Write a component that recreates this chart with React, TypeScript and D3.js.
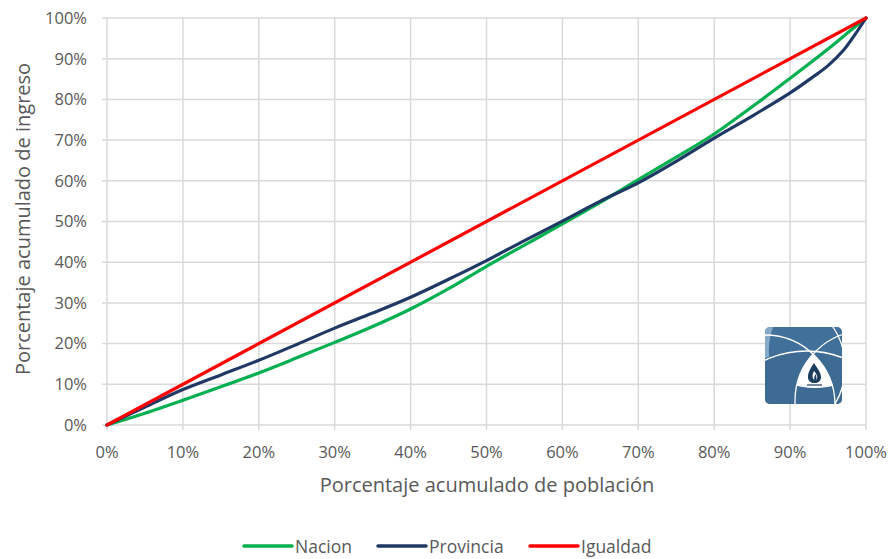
import React, { useEffect, useRef } from 'react';
import * as d3 from 'd3';

// cumulative population share (%)
const nacionX = [0, 5, 10, 15, 20, 25, 30, 35, 40, 45, 50, 55, 60, 65, 70, 75, 80, 85, 90, 95, 98, 100];
// cumulative income share (%)
const nacionY = [0, 2.9, 6.1, 9.4, 12.8, 16.5, 20.3, 24.2, 28.5, 33.5, 39.0, 44.2, 49.4, 54.7, 60.3, 65.8, 71.5, 78.2, 85.2, 92.4, 97.0, 100];

const provinciaX = [0, 5, 10, 15, 20, 25, 30, 35, 40, 45, 50, 55, 60, 65, 70, 75, 80, 85, 90, 93, 95, 97, 98.5, 100];
const provinciaY = [0, 4.4, 8.7, 12.3, 15.9, 19.8, 23.8, 27.5, 31.4, 35.8, 40.4, 45.3, 50.1, 55.0, 59.5, 64.8, 70.5, 75.9, 81.6, 85.5, 88.3, 92.0, 95.8, 100];

const igualdadX = [0, 100];
const igualdadY = [0, 100];

const tickValues = [0, 10, 20, 30, 40, 50, 60, 70, 80, 90, 100];

const seriesNames = ['Nacion', 'Provincia', 'Igualdad'];
const seriesColors = ['#00b050', '#203864', '#ff0000'];

const W = 891;
const H = 559;
const FONT = "'Open Sans', sans-serif";

const App: React.FC = () => {
  const svgRef = useRef<SVGSVGElement>(null);

  useEffect(() => {
    if (!svgRef.current) return;
    const svg = d3.select(svgRef.current);
    svg.selectAll('*').remove();

    const margin = { top: 18, right: 25, bottom: 134, left: 107 };
    const iw = W - margin.left - margin.right;
    const ih = H - margin.top - margin.bottom;

    const x = d3.scaleLinear().domain([0, 100]).range([0, iw]);
    const y = d3.scaleLinear().domain([0, 100]).range([ih, 0]);

    const g = svg.append('g').attr('transform', `translate(${margin.left},${margin.top})`);

    // gridlines
    g.append('g')
      .selectAll('line')
      .data(tickValues)
      .join('line')
      .attr('x1', (d) => x(d))
      .attr('x2', (d) => x(d))
      .attr('y1', 0)
      .attr('y2', ih + 5)
      .attr('stroke', '#d9d9d9')
      .attr('stroke-width', 1.5);

    g.append('g')
      .selectAll('line')
      .data(tickValues)
      .join('line')
      .attr('x1', -5)
      .attr('x2', iw)
      .attr('y1', (d) => y(d))
      .attr('y2', (d) => y(d))
      .attr('stroke', '#d9d9d9')
      .attr('stroke-width', 1.5);

    // tick labels
    g.append('g')
      .selectAll('text')
      .data(tickValues)
      .join('text')
      .attr('x', (d) => x(d))
      .attr('y', ih + 33)
      .attr('text-anchor', 'middle')
      .attr('font-family', FONT)
      .attr('font-size', 16.5)
      .attr('fill', '#595959')
      .text((d) => `${d}%`);

    g.append('g')
      .selectAll('text')
      .data(tickValues)
      .join('text')
      .attr('x', -20)
      .attr('y', (d) => y(d) + 5.8)
      .attr('text-anchor', 'end')
      .attr('font-family', FONT)
      .attr('font-size', 16.5)
      .attr('fill', '#595959')
      .text((d) => `${d}%`);

    svg
      .append('text')
      .attr('x', 487)
      .attr('y', 492)
      .attr('text-anchor', 'middle')
      .attr('font-family', FONT)
      .attr('font-size', 20)
      .attr('fill', '#595959')
      .text('Porcentaje acumulado de población');

    svg
      .append('text')
      .attr('transform', 'translate(30,219) rotate(-90)')
      .attr('text-anchor', 'middle')
      .attr('font-family', FONT)
      .attr('font-size', 20)
      .attr('fill', '#595959')
      .text('Porcentaje acumulado de ingreso');

    // logo (lower right of plot)
    const logo = svg.append('g').attr('transform', 'translate(765,327)');
    const defs = svg.append('defs');
    defs
      .append('clipPath')
      .attr('id', 'logoClip')
      .append('rect')
      .attr('width', 77)
      .attr('height', 77)
      .attr('rx', 5);
    const lc = logo.append('g').attr('clip-path', 'url(#logoClip)');
    lc.append('rect').attr('width', 77).attr('height', 77).attr('fill', '#41709a');
    lc.append('path').attr('d', 'M0,31 Q20,23 42,24 Q62,25 77,31 L77,77 L0,77 Z').attr('fill', '#3d6b93');
    lc.append('path').attr('d', 'M0,0 L8,0 Q3,14 4,30 L0,31 Z').attr('fill', '#86abc6');
    const tri = defs.append('clipPath').attr('id', 'triClip');
    tri.append('circle').attr('cx', 100).attr('cy', 74).attr('r', 70);
    const tri2 = defs.append('clipPath').attr('id', 'triClip2');
    tri2.append('circle').attr('cx', 0).attr('cy', 78).attr('r', 70);
    lc.append('g')
      .attr('clip-path', 'url(#triClip)')
      .append('g')
      .attr('clip-path', 'url(#triClip2)')
      .append('circle')
      .attr('cx', 50)
      .attr('cy', -10)
      .attr('r', 71)
      .attr('fill', '#ffffff');
    const circles = [
      [41.7, 123, 99],
      [100, 74, 70],
      [0, 78, 70],
      [8, 40, 72],
    ];
    lc.selectAll('circle.ring')
      .data(circles)
      .join('circle')
      .attr('class', 'ring')
      .attr('cx', (d) => d[0])
      .attr('cy', (d) => d[1])
      .attr('r', (d) => d[2])
      .attr('fill', 'none')
      .attr('stroke', '#ffffff')
      .attr('stroke-width', 1.3);
    // drop
    logo
      .append('path')
      .attr('d', 'M49,36 C44,43 43,47 43,50 C43,54 46,56 49.5,56 C53,56 56,54 56,50 C56,46 53,42 49,36 Z')
      .attr('fill', '#1d3d5c');
    logo
      .append('path')
      .attr('d', 'M49,44 C47,48 47,51 49.5,53 C48.5,50 50,48 51,47 C51,50 52,51 51,53 C53.5,51 52,47 49,44 Z')
      .attr('fill', '#ffffff');
    logo
      .append('path')
      .attr('d', 'M42,58 L57,58')
      .attr('stroke', '#1d3d5c')
      .attr('stroke-width', 1.2);

    // series lines
    const line = d3
      .line<[number, number]>()
      .x((d) => x(d[0]))
      .y((d) => y(d[1]))
      .curve(d3.curveCatmullRom.alpha(0.5));

    const series: [number, number][][] = [
      nacionX.map((v, i) => [v, nacionY[i]]),
      provinciaX.map((v, i) => [v, provinciaY[i]]),
      igualdadX.map((v, i) => [v, igualdadY[i]]),
    ];

    g.append('g')
      .selectAll('path')
      .data(series)
      .join('path')
      .attr('d', (d) => line(d))
      .attr('fill', 'none')
      .attr('stroke', (_, i) => seriesColors[i])
      .attr('stroke-width', 3.2)
      .attr('stroke-linejoin', 'round')
      .attr('stroke-linecap', 'round');

    // legend
    const legendX = [244, 378, 530];
    const lg = svg.append('g');
    seriesNames.forEach((name, i) => {
      lg.append('line')
        .attr('x1', legendX[i])
        .attr('x2', legendX[i] + 48)
        .attr('y1', 546)
        .attr('y2', 546)
        .attr('stroke', seriesColors[i])
        .attr('stroke-width', 3.5)
        .attr('stroke-linecap', 'round');
      lg.append('text')
        .attr('x', legendX[i] + 51)
        .attr('y', 553)
        .attr('font-family', FONT)
        .attr('font-size', 17.5)
        .attr('fill', '#595959')
        .text(name);
    });
  }, []);

  return (
    <div style={{ position: 'absolute', left: 0, top: 0, width: W, height: H, background: '#fff' }}>
      <svg ref={svgRef} width={W} height={H}></svg>
    </div>
  );
};

export default App;
